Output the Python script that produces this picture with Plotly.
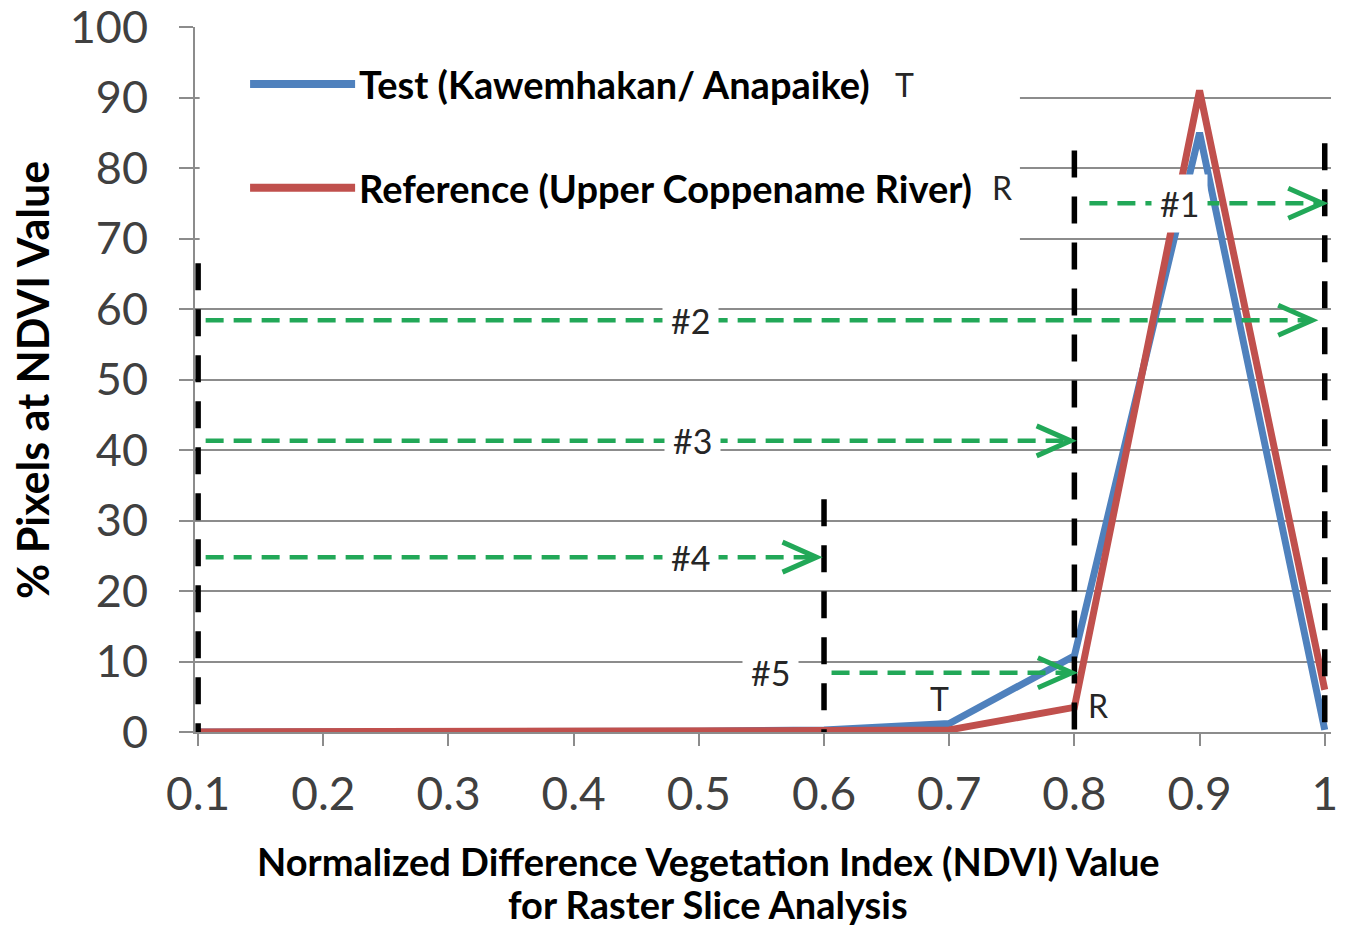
import plotly.graph_objects as go

# ---------------- data ----------------
ndvi = [0.1, 0.2, 0.3, 0.4, 0.5, 0.6, 0.7, 0.8, 0.9, 1.0]
test_pct = [0, 0, 0, 0, 0.1, 0.3, 1.2, 10.8, 85.0, 0.3]
ref_pct = [0, 0, 0, 0, 0.1, 0.2, 0.3, 3.5, 91.0, 6.0]
x_tick_vals = [0.1, 0.2, 0.3, 0.4, 0.5, 0.6, 0.7, 0.8, 0.9, 1.0]
x_tick_text = ["0.1", "0.2", "0.3", "0.4", "0.5", "0.6", "0.7", "0.8", "0.9", "1"]
y_tick_vals = [0, 10, 20, 30, 40, 50, 60, 70, 80, 90, 100]

series_names = ["Test (Kawemhakan/ Anapaike)", "Reference (Upper Coppename River)"]
series_tags = ["T", "R"]
x_title_lines = ["Normalized Difference Vegetation Index (NDVI) Value", "for Raster Slice Analysis"]
y_title = "% Pixels at NDVI Value"

# slice boundaries (black dashed verticals): NDVI value and top of the line (% axis)
bound_x = [0.1, 0.6, 0.8, 1.0]
bound_top = [66.5, 33.0, 82.5, 83.5]

# slice arrows (green dashed)
arrow_labels = ["#1", "#2", "#3", "#4", "#5"]
arrow_start = [0.812, 0.106, 0.106, 0.106, 0.606]
arrow_end = [0.998, 0.990, 0.797, 0.594, 0.798]
arrow_y = [75.0, 58.4, 41.3, 24.8, 8.4]
arrow_label_x = [0.884, 0.493, 0.495, 0.493, 0.557]

BLUE = "rgb(79,129,189)"
RED = "rgb(192,80,77)"
GREEN = "rgb(34,168,88)"
GRID = "#8c8c8c"
FONT = "Lato"

# figure geometry (the page adds an 8px body margin)
W, H = 1330, 923
ML, MR, MT, MB = 187, 7, 19, 199
PW, PH = W - ML - MR, H - MT - MB

fig = go.Figure()
fig.add_trace(go.Scatter(x=ndvi, y=test_pct, mode="lines", name=series_names[0],
                         line=dict(color=BLUE, width=7), showlegend=False))
fig.add_trace(go.Scatter(x=ndvi, y=ref_pct, mode="lines", name=series_names[1],
                         line=dict(color=RED, width=7), showlegend=False))

shapes = []
annotations = []

# black dashed slice boundaries (dash pattern starts at the top)
for bx, bt in zip(bound_x, bound_top):
    shapes.append(dict(type="line", xref="x", yref="y", x0=bx, x1=bx, y0=bt, y1=0,
                       line=dict(color="black", width=5.5, dash="27px,19px"), layer="above"))

# green dashed arrows with open chevron heads
for lab, xs, xe, yv, lx in zip(arrow_labels, arrow_start, arrow_end, arrow_y, arrow_label_x):
    shapes.append(dict(type="line", xref="x", yref="y", x0=xs, x1=xe, y0=yv, y1=yv,
                       line=dict(color=GREEN, width=4.5, dash="18px,10px"), layer="above"))
    shapes.append(dict(type="path", xref="x", yref="y", xsizemode="pixel", ysizemode="pixel",
                       xanchor=xe, yanchor=yv, path="M-34,15 L0,0 L-34,-15",
                       line=dict(color=GREEN, width=5), layer="above"))
    annotations.append(dict(x=lx, y=yv, xref="x", yref="y", text=lab, showarrow=False,
                            xanchor="center", yanchor="middle",
                            font=dict(family=FONT, size=34, color="#262626"),
                            bgcolor="white", borderpad=8))

# legend (manual, Excel-like): white box hiding gridlines, long line samples, bold text
shapes.append(dict(type="rect", xref="x", yref="y", x0=0.1012, x1=0.7565, y0=68.6, y1=98.6,
                   fillcolor="white", line=dict(width=0), layer="above"))
leg_y = [91.9, 77.2]
leg_tag_x = [0.6646, 0.742]
for name, tag, col, ly, tx in zip(series_names, series_tags, [BLUE, RED], leg_y, leg_tag_x):
    shapes.append(dict(type="line", xref="x", yref="y", x0=0.1415, x1=0.2254, y0=ly, y1=ly,
                       line=dict(color=col, width=8), layer="above"))
    annotations.append(dict(x=0.2268, y=ly, xref="x", yref="y", text="<b>" + name + "</b>",
                            xanchor="left", yanchor="middle", showarrow=False,
                            font=dict(family=FONT, size=38, color="black")))
    annotations.append(dict(x=tx, y=ly, xref="x", yref="y", text=tag, showarrow=False,
                            xanchor="center", yanchor="middle",
                            font=dict(family=FONT, size=32, color="#262626")))

# T / R markers next to the curves
annotations.append(dict(x=0.6926, y=4.8, xref="x", yref="y", text=series_tags[0], showarrow=False,
                        xanchor="center", yanchor="middle",
                        font=dict(family=FONT, size=32, color="#262626")))
annotations.append(dict(x=0.819, y=3.7, xref="x", yref="y", text=series_tags[1], showarrow=False,
                        xanchor="center", yanchor="middle",
                        font=dict(family=FONT, size=32, color="#262626")))

# axis titles (positions in figure pixels converted to paper units)
for line_txt, py in zip(x_title_lines, [853, 896]):
    annotations.append(dict(x=(700 - ML) / PW, y=((H - MB) - py) / PH, xref="paper", yref="paper",
                            xanchor="center", yanchor="middle", text="<b>" + line_txt + "</b>",
                            showarrow=False, font=dict(family=FONT, size=38, color="black")))
annotations.append(dict(x=(25 - ML) / PW, y=((H - MB) - 372) / PH, xref="paper", yref="paper",
                        xanchor="center", yanchor="middle",
                        text="<b>" + y_title + "</b>", textangle=-90,
                        showarrow=False, font=dict(family=FONT, size=43, color="black")))

fig.update_layout(
    width=W, height=H,
    margin=dict(l=ML, r=MR, t=MT, b=MB, autoexpand=False),
    paper_bgcolor="white", plot_bgcolor="white",
    shapes=shapes, annotations=annotations,
    showlegend=False,
    xaxis=dict(range=[0.0975, 1.005], tickvals=x_tick_vals, ticktext=x_tick_text,
               automargin=False, ticklabeloverflow="allow",
               showgrid=False, zeroline=False, showline=True, linecolor=GRID, linewidth=2,
               ticks="outside", ticklen=12, tickwidth=2, tickcolor=GRID,
               tickfont=dict(family=FONT, size=46, color="#404040"), ticklabelstandoff=9),
    yaxis=dict(range=[0, 100], tickvals=y_tick_vals, automargin=False, ticklabeloverflow="allow",
               showgrid=True, gridcolor=GRID, gridwidth=1.5, zeroline=False,
               showline=True, linecolor=GRID, linewidth=2,
               ticks="outside", ticklen=14, tickwidth=2, tickcolor=GRID,
               tickfont=dict(family=FONT, size=45, color="#404040"), ticklabelstandoff=22),
)

fig.write_html("out.html")
